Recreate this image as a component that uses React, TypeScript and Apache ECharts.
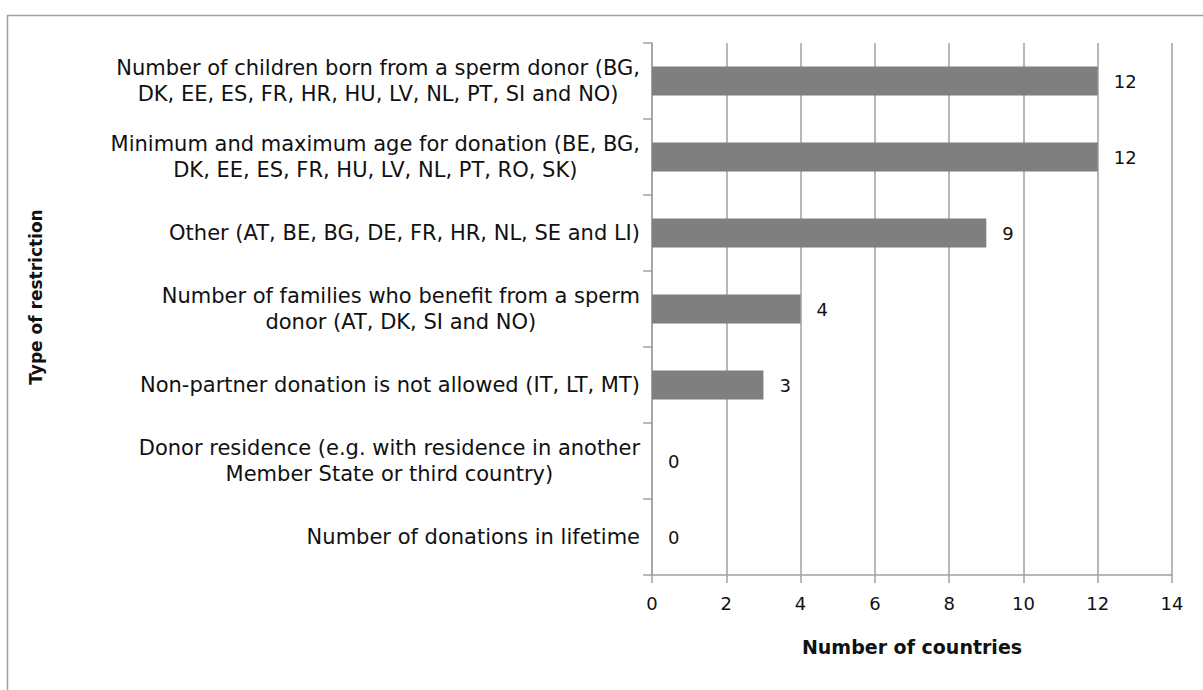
import React, { useEffect, useRef } from "react";
import * as echarts from "echarts";

const categories: string[] = [
  "Number of children born from a sperm donor (BG,\nDK, EE, ES, FR, HR, HU, LV, NL, PT, SI and NO)",
  "Minimum and maximum age for donation (BE, BG,\nDK, EE, ES, FR, HU, LV, NL, PT, RO, SK)",
  "Other (AT, BE, BG, DE, FR, HR, NL, SE and LI)",
  "Number of families who benefit from a sperm\ndonor (AT, DK, SI and NO)",
  "Non-partner donation is not allowed (IT, LT, MT)",
  "Donor residence (e.g. with residence in another\nMember State or third country)",
  "Number of donations in lifetime",
];
const values: number[] = [12, 12, 9, 4, 3, 0, 0];
const xTicks = { min: 0, max: 14, interval: 2 };
const xAxisTitle = "Number of countries";
const yAxisTitle = "Type of restriction";

const FONT = "'DejaVu Sans', sans-serif";
const GRID = "#a0a0a0";
const TEXT = "#111111";

export default function App() {
  const ref = useRef<HTMLDivElement>(null);
  useEffect(() => {
    if (!ref.current) return;
    const chart = echarts.init(ref.current, undefined, { renderer: "svg" });
    chart.setOption({
      animation: false,
      backgroundColor: "#ffffff",
      textStyle: { fontFamily: FONT },
      graphic: [
        {
          type: "rect",
          shape: { x: 7.5, y: 15.5, width: 1400, height: 900 },
          style: { fill: "none", stroke: "#a0a0a0", lineWidth: 1.5 },
          silent: true,
        },
      ],
      grid: { left: 652, right: 31, top: 43, bottom: 115, containLabel: false },
      xAxis: {
        type: "value",
        min: xTicks.min,
        max: xTicks.max,
        interval: xTicks.interval,
        name: xAxisTitle,
        nameLocation: "middle",
        nameGap: 62,
        nameTextStyle: { fontFamily: FONT, fontSize: 19, fontWeight: "bold", color: TEXT },
        axisLine: { show: true, lineStyle: { color: GRID, width: 1.5 } },
        axisTick: { show: true, length: 8, lineStyle: { color: GRID, width: 1.5 } },
        splitLine: { show: true, lineStyle: { color: GRID, width: 1.5 } },
        axisLabel: { fontFamily: FONT, fontSize: 18, color: TEXT, margin: 19 },
      },
      yAxis: {
        type: "category",
        inverse: true,
        data: categories,
        name: yAxisTitle,
        nameLocation: "middle",
        nameGap: 608,
        nameTextStyle: {
          fontFamily: FONT,
          fontSize: 17,
          fontWeight: "bold",
          color: TEXT,
          padding: [0, 0, 0, 24],
        },
        axisLine: { show: true, lineStyle: { color: GRID, width: 1.5 } },
        axisTick: { show: true, length: 9, lineStyle: { color: GRID, width: 1.5 } },
        splitLine: { show: false },
        axisLabel: {
          margin: 12,
          formatter: (v: string) =>
            v
              .split("\n")
              .map((l) => `{c|${l}}`)
              .join("\n"),
          rich: {
            c: {
              align: "center",
              fontFamily: FONT,
              fontSize: 21,
              lineHeight: 26,
              color: TEXT,
            },
          },
        },
      },
      series: [
        {
          type: "bar",
          data: values,
          barCategoryGap: "62%",
          itemStyle: { color: "#7f7f7f" },
          label: {
            show: true,
            position: "right",
            distance: 16,
            fontFamily: FONT,
            fontSize: 18,
            color: TEXT,
          },
        },
      ],
    });
    return () => chart.dispose();
  }, []);
  return (
    <div
      ref={ref}
      style={{ position: "fixed", left: 0, top: 0, width: 1203, height: 690 }}
    />
  );
}
